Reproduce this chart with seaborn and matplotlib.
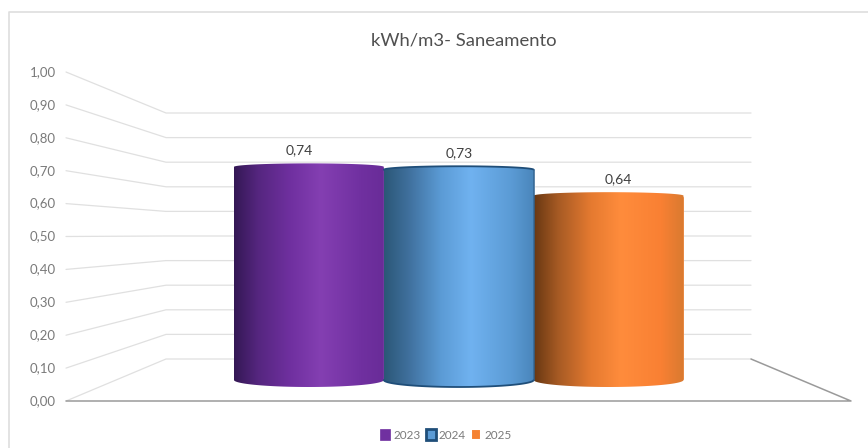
import numpy as np
import seaborn as sns
import matplotlib.pyplot as plt
from matplotlib.colors import LinearSegmentedColormap
from matplotlib.patches import Patch, PathPatch
from matplotlib.path import Path

years = ['2023', '2024', '2025']
values = [0.74, 0.73, 0.64]
ticks = [0.0, 0.1, 0.2, 0.3, 0.4, 0.5, 0.6, 0.7, 0.8, 0.9, 1.0]
tick_labels = ['0,00', '0,10', '0,20', '0,30', '0,40', '0,50', '0,60', '0,70', '0,80', '0,90', '1,00']
title = 'kWh/m3- Saneamento'

W, H = 868, 448
palette = ['#7030a0', '#5b9bd5', '#f58232']
shades = [
    ['#341855', '#55267f', '#7030a0', '#843fb2', '#7030a0', '#692c98'],
    ['#2b5777', '#3f6f9c', '#5b9bd5', '#70b2f0', '#5b9bd5', '#4a86bb'],
    ['#693812', '#a65a24', '#e57a30', '#ff8c3c', '#f98033', '#d97a30'],
]
label_nudge = [-7, 0, 7]

sns.set_theme(style='white')
plt.rcParams['font.family'] = ['Lato', 'DejaVu Sans']

fig = plt.figure(figsize=(W / 100, H / 100), dpi=100, facecolor='white')

# background in pixels: frame, walls, floor
bg = fig.add_axes([0, 0, 1, 1])
bg.set_xlim(0, W)
bg.set_ylim(H, 0)
bg.axis('off')


def front_y(v):
    return 401 - 329 * v


def back_y(v):
    return 359 - 246 * v


bg.plot([9, 9, W], [H, 12, 12], color='#dedede', lw=1.2)
for v, lab in zip(ticks, tick_labels):
    bg.plot([66, 166, 751], [front_y(v), back_y(v), back_y(v)], color='#e0e0e0', lw=0.9)
    bg.text(56, front_y(v), lab, ha='right', va='center', fontsize=9.5, color='#7a7a7a')
bg.plot([66, 851, 751], [front_y(0), front_y(0), back_y(0)], color='#9a9a9a', lw=1.1)
bg.text(464, 40, title, ha='center', va='center', fontsize=13.3, color='#505050')

# bar axes: value 0 sits at pixel 380 and 1 at pixel 92
ymin = -0.07
left, right = 234, 683.5
y_bottom = 380 - ymin * 288
ax = fig.add_axes([left / W, 1 - y_bottom / H, (right - left) / W, (y_bottom - 92) / H])
sns.barplot(x=years, y=values, hue=years, palette=palette, width=1, dodge=False,
            saturation=1, legend=False, ax=ax)
ax.patch.set_alpha(0)

bottom_arc = 7 / 288
top_arc = 3.5 / 288
for i, bar in enumerate(ax.patches):
    x0, w, h = bar.get_x(), bar.get_width(), bar.get_height()
    t = np.linspace(0, np.pi, 60)
    xs = x0 + w / 2 - w / 2 * np.cos(t)
    low = -bottom_arc * np.sin(t)
    high = h + top_arc * np.sin(t)
    verts = np.vstack([np.column_stack([xs, low]), np.column_stack([xs[::-1], high[::-1]]), [[xs[0], low[0]]]])
    shape = PathPatch(Path(verts, closed=True), transform=ax.transData, facecolor='none', edgecolor='none')
    ax.add_patch(shape)
    cmap = LinearSegmentedColormap.from_list(years[i], list(zip([0, 0.16, 0.38, 0.58, 0.85, 1], shades[i])))
    img = ax.imshow(np.linspace(0, 1, 256).reshape(1, -1), cmap=cmap, aspect='auto',
                    extent=(x0, x0 + w, -0.1, 1), zorder=3)
    img.set_clip_path(shape)
    if years[i] == '2024':
        # this one has a dark outline in the reference
        ax.plot(xs, high, color='#1f4e79', lw=1.3, zorder=4, solid_capstyle='round')
        ax.plot(xs, low, color='#1f4e79', lw=1.3, zorder=4, solid_capstyle='round')
        ax.plot([xs[-1], xs[-1]], [0, h], color='#2f628f', lw=1.1, zorder=4)
    ax.annotate(f'{values[i]:.2f}'.replace('.', ','), (x0 + w / 2, h), xytext=(label_nudge[i], 7.5),
                textcoords='offset points', ha='center', va='bottom', fontsize=10,
                color='#404040', zorder=5, annotation_clip=False)

ax.set_xlim(-0.5, 2.5)
ax.set_ylim(ymin, 1)
ax.axis('off')

handles = [
    Patch(facecolor=palette[0], edgecolor=palette[0], lw=0.5),
    Patch(facecolor='#5b9bd5', edgecolor='#1f4e79', lw=2),
    Patch(facecolor=palette[2], edgecolor='white', lw=1.5),
]
leg = fig.legend(handles, years, loc='center', bbox_to_anchor=(446 / W, 1 - 435 / H), ncol=3, frameon=False,
                 fontsize=8.5, handlelength=0.85, handleheight=1.0, handletextpad=0.25, columnspacing=0.45,
                 borderpad=0, labelcolor='#7a7a7a')

fig.savefig('out.png', dpi=100)
